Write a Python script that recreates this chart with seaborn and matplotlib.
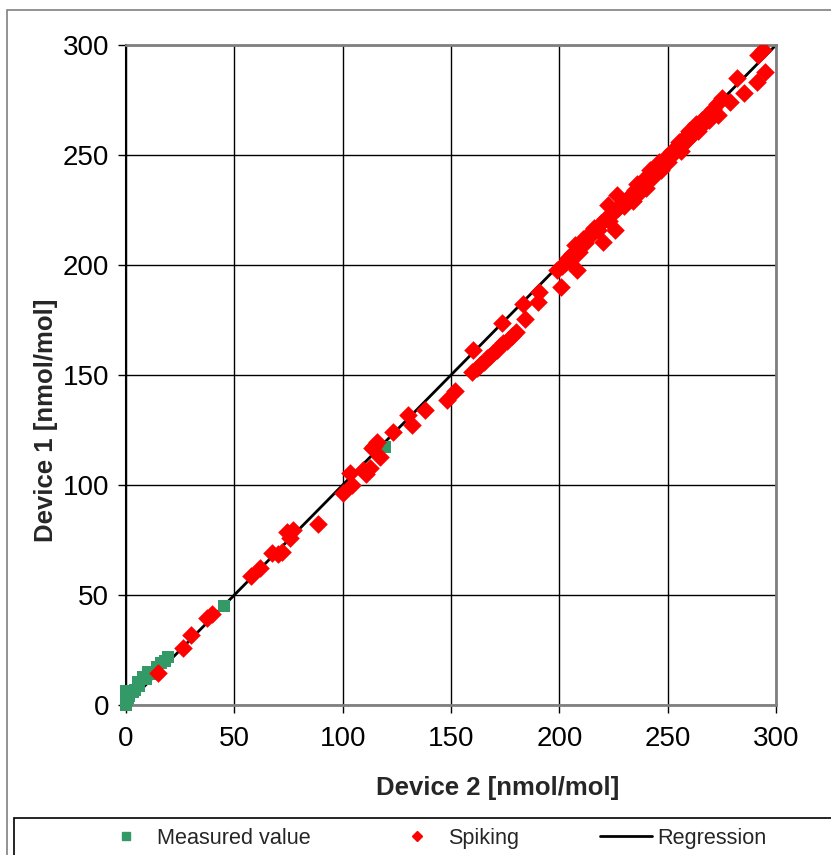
import numpy as np
import pandas as pd
import matplotlib
matplotlib.use("Agg")
import matplotlib.pyplot as plt
from matplotlib.patches import Rectangle
from matplotlib.lines import Line2D
import seaborn as sns

# Measured value (green squares)
meas_x = [0, 0, 0, 0.5, 1, 1, 1.5, 2, 0, 3, 4, 5.7, 6, 8, 9, 10.3, 12, 14.2, 16, 18, 19.5, 45, 119.5]
meas_y = [0, 1, 4, 2.5, 3, 5, 4, 6, 6.5, 6, 7, 10.6, 8.5, 12.9, 12, 15.1, 14, 17.4, 19, 20, 22, 45, 117.4]

# Spiking (red diamonds)
spike_x = [14.9, 26.5, 30, 37.5, 39.5,
           57.5, 61.8, 67.2, 70.3, 71.8, 74.2, 77.2, 75.7, 88.8,
           100.3, 104.2, 103.4, 109.5, 112.6, 110.8, 113.4, 115.7, 117.2, 114.5, 123.1, 130.3, 131.8, 138, 148, 151.8,
           160.3, 159.5, 162, 163.5, 165, 166.5, 168, 169.5, 171, 172.5, 174, 176, 178, 180, 173.4, 184.2, 183.4, 190.3, 190.8,
           198.8, 200.6, 208, 201, 202.5, 204, 205, 206, 207, 209, 210, 211, 212, 213, 215, 216, 218, 219, 220.3, 221,
           222.6, 223, 225.7, 226.5, 225, 227, 229, 230, 231, 233, 234, 235, 236, 237, 238, 239, 240, 241, 242, 243,
           244, 245, 246, 247, 248, 249, 250, 251, 252, 253, 254, 255, 256, 257, 258, 259, 260, 261, 262, 263, 264,
           265, 266, 267, 268, 269, 270, 271, 272.6, 273.4, 274.9, 278.8, 281.9, 285, 291.1, 295, 291.8, 294.2]
spike_y = [14.4, 25.8, 32, 39.5, 41.5,
           58.6, 62.4, 69, 68.5, 69.7, 78.8, 79.5, 75.8, 82.1,
           96.2, 100, 105.3, 106.8, 107.6, 105.2, 116.7, 119.7, 112.9, 117.5, 124.2, 131.8, 127.3, 134.1, 138.6, 142.5,
           161.4, 151.5, 153, 154.5, 156, 157.5, 158.5, 160, 161.5, 163, 164.5, 165.5, 167.5, 169.5, 173.8, 175.3, 182.3, 183.3, 187.9,
           197.7, 190.1, 197.7, 199.5, 201, 203, 202, 205, 209, 206, 208.5, 212, 210, 213.5, 214, 217, 216, 219, 210.6, 221,
           227.3, 220, 215.9, 231.8, 224, 226, 228, 227, 230, 232, 229, 234, 237, 233, 236, 239, 235, 240, 243, 240,
           242, 245, 247, 243, 246, 249, 247, 250, 252, 251, 253, 256, 252, 255, 258, 257, 261, 259, 262, 264, 261,
           263, 266, 265, 268, 266, 269, 271, 273, 268.2, 275.8, 274.2, 284.8, 278, 283.3, 287.9, 295.5, 297.7]

# Regression line
reg_slope = 1.0
reg_intercept = 0.0
axis_min, axis_max = 0, 300
ticks = [0, 50, 100, 150, 200, 250, 300]

green = '#339966'
red = '#FF0000'

sns.set_style("white")
plt.rcParams['font.family'] = ['Liberation Sans', 'DejaVu Sans']

fig = plt.figure(figsize=(8.31, 8.55), dpi=100)
ax = fig.add_axes([126/831, 1 - 705/855, 650/831, 660/855])

reg_x = np.array([axis_min, axis_max])
reg_df = pd.DataFrame({'x': reg_x, 'y': reg_slope * reg_x + reg_intercept})

meas_df = pd.DataFrame({'x': meas_x, 'y': meas_y})
spike_df = pd.DataFrame({'x': spike_x, 'y': spike_y})

sns.lineplot(data=reg_df, x='x', y='y', color='black', lw=2, ax=ax, zorder=2)
sns.scatterplot(data=meas_df, x='x', y='y', marker='s', s=65, color=green, edgecolor=green, linewidth=0,
                ax=ax, zorder=3, clip_on=False)
sns.scatterplot(data=spike_df, x='x', y='y', marker='D', s=90, color=red, edgecolor=red, linewidth=0, ax=ax, zorder=4)

ax.set_xlim(axis_min, axis_max)
ax.set_ylim(axis_min, axis_max)
ax.set_xticks(ticks)
ax.set_yticks(ticks)
ax.grid(True, color='black', lw=1)
ax.set_axisbelow(True)
ax.tick_params(axis='both', direction='out', length=6, width=1, colors='black', labelsize=20, pad=6)
ax.tick_params(axis='x', pad=9)
ax.tick_params(left=True, bottom=True)

for side in ['top', 'right', 'bottom']:
    ax.spines[side].set_color('#808080')
    ax.spines[side].set_linewidth(2)
ax.spines['left'].set_color('black')
ax.spines['left'].set_linewidth(1.5)

ax.set_xlabel('Device 2 [nmol/mol]', fontsize=18.5, fontweight='bold')
ax.set_ylabel('Device 1 [nmol/mol]', fontsize=18.5, fontweight='bold')
ax.xaxis.set_label_coords(0.572, -0.108)
ax.yaxis.set_label_coords(-0.104, 0.432)

# outer chart border
fig.patches.append(Rectangle((7/831, -0.1), 1.2, 0.1 + 1 - 10/855, transform=fig.transFigure,
                             fill=False, edgecolor='#808080', lw=1.2))
# legend box
fig.patches.append(Rectangle((14/831, -0.1), 1.2, 0.1 + 1 - 818/855, transform=fig.transFigure,
                             fill=False, edgecolor='black', lw=1.2))

handles = [
    Line2D([], [], marker='s', color=green, linestyle='none', markersize=6),
    Line2D([], [], marker='D', color=red, linestyle='none', markersize=5),
    Line2D([], [], color='black', lw=2),
]
labels = ['Measured value', 'Spiking', 'Regression']
fig.legend(handles, labels, loc='center', bbox_to_anchor=(433/831, 1 - 838/855), ncol=3,
           frameon=False, fontsize=15.6, columnspacing=3.7, handlelength=2.4, handletextpad=0.25)

fig.savefig('out.png', dpi=100)
